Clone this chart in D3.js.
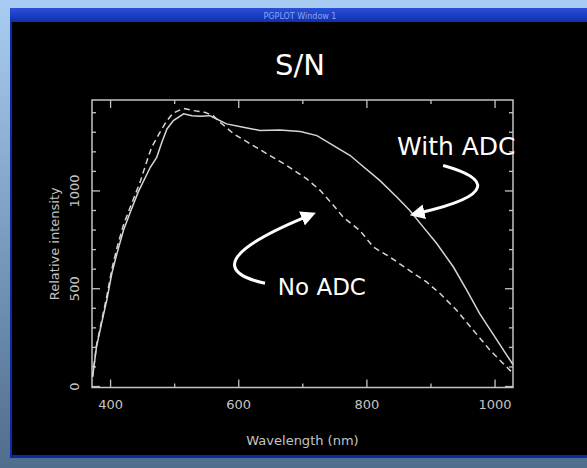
<!DOCTYPE html>
<html>
<head>
<meta charset="utf-8">
<script src="https://cdn.jsdelivr.net/npm/d3@7"></script>
<style>
body { margin: 0; background: #000; }
svg { display: block; }
</style>
</head>
<body>
<div id="chart"></div>
<script>
// values
const withAdcWavelength = [372, 378, 386, 394, 402, 410, 420, 430, 443, 462, 472, 480, 488, 498, 514, 527, 540, 555, 560, 581, 607, 633, 664, 696, 722, 748, 774, 789, 820, 847, 867, 888, 909, 935, 956, 976, 1003, 1028];
const withAdcIntensity = [50, 203, 324, 441, 579, 681, 798, 885, 994, 1121, 1172, 1249, 1317, 1360, 1394, 1385, 1382, 1385, 1377, 1343, 1326, 1309, 1312, 1304, 1283, 1232, 1181, 1139, 1054, 968, 900, 815, 731, 611, 492, 373, 237, 112];

const noAdcWavelength = [372, 378, 386, 394, 402, 410, 420, 430, 446, 457, 464, 477, 488, 498, 514, 529, 547, 560, 571, 592, 618, 644, 675, 706, 727, 748, 763, 789, 810, 836, 862, 893, 914, 940, 966, 992, 1023, 1028];
const noAdcIntensity = [50, 210, 335, 460, 600, 710, 825, 911, 1045, 1156, 1223, 1300, 1360, 1399, 1422, 1411, 1402, 1385, 1351, 1292, 1241, 1190, 1130, 1062, 1003, 926, 866, 798, 713, 662, 603, 535, 476, 390, 288, 186, 84, 70];

const xTicks = [400, 600, 800, 1000];
const xMinorTicks = d3.range(400, 1001, 100);
const yTicks = [0, 500, 1000];
const yMinorTicks = d3.range(0, 1401, 100);

const width = 587, height = 468;
const frame = { left: 92, right: 513, top: 100, bottom: 387.5 };

const xScale = d3.scaleLinear().domain([371, 1028]).range([frame.left, frame.right]);
const yScale = d3.scaleLinear().domain([-5, 1465]).range([frame.bottom, frame.top]);

const axisColor = '#c4c4c4';
const lineColor = '#d6d6d6';
const labelFont = "'DejaVu Sans', sans-serif";
const noteFont = "'Comic Sans MS', 'DejaVu Sans', sans-serif";

const svg = d3.select('#chart').append('svg')
    .attr('width', width)
    .attr('height', height);

const defs = svg.append('defs');

const bg = defs.append('linearGradient').attr('id', 'bg').attr('x1', 0).attr('y1', 0).attr('x2', 0).attr('y2', 1);
bg.append('stop').attr('offset', '0%').attr('stop-color', '#a9cdf2');
bg.append('stop').attr('offset', '100%').attr('stop-color', '#4f6d8c');

const bar = defs.append('linearGradient').attr('id', 'bar').attr('x1', 0).attr('y1', 0).attr('x2', 0).attr('y2', 1);
bar.append('stop').attr('offset', '0%').attr('stop-color', '#2a4fd8');
bar.append('stop').attr('offset', '100%').attr('stop-color', '#0f2fb0');

defs.append('marker')
    .attr('id', 'head')
    .attr('viewBox', '0 0 10 10')
    .attr('refX', 2).attr('refY', 5)
    .attr('markerWidth', 5).attr('markerHeight', 5)
    .attr('markerUnits', 'strokeWidth')
    .attr('orient', 'auto')
    .append('path')
    .attr('d', 'M0,0 L10,5 L0,10 z')
    .attr('fill', '#fff');

// window chrome
svg.append('rect').attr('width', width).attr('height', height).attr('fill', 'url(#bg)');
svg.append('rect').attr('x', 10).attr('y', 8).attr('width', width - 10).attr('height', 450).attr('fill', '#0c2aa8');
svg.append('rect').attr('x', 10).attr('y', 8).attr('width', width - 10).attr('height', 14).attr('fill', 'url(#bar)');
svg.append('text')
    .attr('x', 300).attr('y', 18.5)
    .attr('text-anchor', 'middle')
    .attr('font-family', labelFont)
    .attr('font-size', 8)
    .attr('fill', '#86a6f0')
    .text('PGPLOT Window 1');
svg.append('rect').attr('x', 12).attr('y', 22).attr('width', width - 12).attr('height', 433).attr('fill', '#000');

// title
svg.append('text')
    .attr('x', 300).attr('y', 75)
    .attr('text-anchor', 'middle')
    .attr('font-family', noteFont)
    .attr('font-size', 29)
    .attr('fill', '#fff')
    .text('S/N');

// frame and ticks
svg.append('rect')
    .attr('x', frame.left).attr('y', frame.top)
    .attr('width', frame.right - frame.left).attr('height', frame.bottom - frame.top)
    .attr('fill', 'none').attr('stroke', axisColor).attr('stroke-width', 1.5);

const ticks = svg.append('g').attr('stroke', axisColor).attr('stroke-width', 1.3);
xMinorTicks.forEach(v => {
    const len = xTicks.includes(v) ? 8 : 4;
    ticks.append('line').attr('x1', xScale(v)).attr('x2', xScale(v)).attr('y1', frame.bottom).attr('y2', frame.bottom - len);
    ticks.append('line').attr('x1', xScale(v)).attr('x2', xScale(v)).attr('y1', frame.top).attr('y2', frame.top + len);
});
yMinorTicks.forEach(v => {
    const len = yTicks.includes(v) ? 8 : 4;
    ticks.append('line').attr('y1', yScale(v)).attr('y2', yScale(v)).attr('x1', frame.left).attr('x2', frame.left + len);
    ticks.append('line').attr('y1', yScale(v)).attr('y2', yScale(v)).attr('x1', frame.right).attr('x2', frame.right - len);
});

svg.append('g').selectAll('text')
    .data(xTicks)
    .enter().append('text')
    .attr('x', d => xScale(d))
    .attr('y', 409)
    .attr('text-anchor', 'middle')
    .attr('font-family', labelFont)
    .attr('font-size', 13)
    .attr('fill', axisColor)
    .text(d => d);

svg.append('g').selectAll('text')
    .data(yTicks)
    .enter().append('text')
    .attr('transform', d => `translate(79, ${yScale(d)}) rotate(-90)`)
    .attr('text-anchor', 'middle')
    .attr('font-family', labelFont)
    .attr('font-size', 13)
    .attr('fill', axisColor)
    .text(d => d);

svg.append('text')
    .attr('x', (frame.left + frame.right) / 2).attr('y', 445)
    .attr('text-anchor', 'middle')
    .attr('font-family', labelFont)
    .attr('font-size', 13)
    .attr('fill', axisColor)
    .text('Wavelength (nm)');

svg.append('text')
    .attr('transform', `translate(59, ${(frame.top + frame.bottom) / 2}) rotate(-90)`)
    .attr('text-anchor', 'middle')
    .attr('font-family', labelFont)
    .attr('font-size', 13)
    .attr('fill', axisColor)
    .text('Relative intensity');

// curves
const line = d3.line().x(d => xScale(d[0])).y(d => yScale(d[1]));

svg.append('path')
    .datum(d3.zip(withAdcWavelength, withAdcIntensity))
    .attr('d', line)
    .attr('fill', 'none')
    .attr('stroke', lineColor)
    .attr('stroke-width', 1.5);

svg.append('path')
    .datum(d3.zip(noAdcWavelength, noAdcIntensity))
    .attr('d', line)
    .attr('fill', 'none')
    .attr('stroke', lineColor)
    .attr('stroke-width', 1.5)
    .attr('stroke-dasharray', '6,4');

// annotations (data coordinates)
const noAdcArrow = [[641, 528], [563, 584], [579, 696], [703, 865]];
const withAdcArrow = [[919, 1130], [992, 1064], [1000, 977], [885, 890]];

function curvePath(p) {
    const q = p.map(d => [xScale(d[0]), yScale(d[1])]);
    return `M${q[0]}C${q[1]} ${q[2]} ${q[3]}`;
}

svg.append('path')
    .attr('d', curvePath(noAdcArrow))
    .attr('fill', 'none').attr('stroke', '#fff').attr('stroke-width', 3)
    .attr('marker-end', 'url(#head)');
svg.append('path')
    .attr('d', curvePath(withAdcArrow))
    .attr('fill', 'none').attr('stroke', '#fff').attr('stroke-width', 3)
    .attr('marker-end', 'url(#head)');

svg.append('text')
    .attr('x', xScale(847)).attr('y', yScale(1186))
    .attr('font-family', noteFont)
    .attr('font-size', 25)
    .attr('fill', '#fff')
    .text('With ADC');

svg.append('text')
    .attr('x', xScale(661)).attr('y', yScale(467))
    .attr('font-family', noteFont)
    .attr('font-size', 23)
    .attr('fill', '#fff')
    .text('No ADC');
</script>
</body>
</html>
